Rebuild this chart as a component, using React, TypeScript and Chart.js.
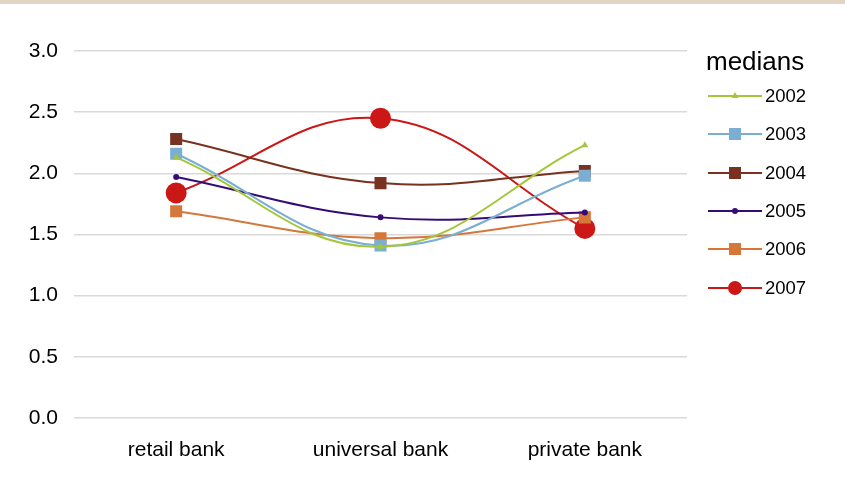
import React, { useEffect, useRef } from "react";
import { Chart, registerables } from "chart.js";

Chart.register(...registerables);

const categories = ["retail bank", "universal bank", "private bank"];
const yTicks = [0, 0.5, 1.0, 1.5, 2.0, 2.5, 3.0];
const legendTitle = "medians";

const s2002 = [2.13, 1.4, 2.23];
const s2003 = [2.16, 1.41, 1.98];
const s2004 = [2.28, 1.92, 2.02];
const s2005 = [1.97, 1.64, 1.68];
const s2006 = [1.69, 1.47, 1.64];
const s2007 = [1.84, 2.45, 1.55];

const seriesNames = ["2002", "2003", "2004", "2005", "2006", "2007"];
const seriesData = [s2002, s2003, s2004, s2005, s2006, s2007];
const colors = ["#a5c63b", "#7aaed3", "#78321f", "#360b75", "#d5763a", "#cc1717"];
const pointStyles = ["triangle", "rect", "rect", "circle", "rect", "circle"];
const pointRadii = [4, 8.5, 8.5, 3, 8.5, 10.5];
const legendRadii = [4, 8.5, 8.5, 3, 8.5, 7];

const FONT = "'Liberation Sans', Arial, sans-serif";

function drawPointLocal(ctx: any, style: string, r: number, x: number, y: number, color: string) {
  ctx.save();
  ctx.fillStyle = color;
  ctx.beginPath();
  if (style === "circle") {
    ctx.arc(x, y, r, 0, Math.PI * 2);
  } else if (style === "rect") {
    const s = r * Math.SQRT1_2;
    ctx.rect(x - s, y - s, 2 * s, 2 * s);
  } else if (style === "triangle") {
    ctx.moveTo(x, y - r);
    ctx.lineTo(x + r * 0.87, y + r * 0.5);
    ctx.lineTo(x - r * 0.87, y + r * 0.5);
    ctx.closePath();
  }
  ctx.fill();
  ctx.restore();
}

const legendPlugin = {
  id: "customLegend",
  beforeDraw(chart: any) {
    const ctx = chart.ctx;
    ctx.save();
    ctx.fillStyle = "#e2d5c3";
    ctx.fillRect(0, 0, chart.width, 4);
    ctx.restore();
  },
  afterDraw(chart: any) {
    const ctx = chart.ctx;
    ctx.save();
    ctx.fillStyle = "#000";
    ctx.font = `26px ${FONT}`;
    ctx.textBaseline = "middle";
    ctx.textAlign = "left";
    ctx.fillText(legendTitle, 706, 63);
    const x0 = 708;
    const x1 = 762;
    const ys = [96, 134, 173, 211, 249, 288];
    chart.data.datasets.forEach((ds: any, i: number) => {
      const y = ys[i];
      ctx.strokeStyle = ds.borderColor;
      ctx.lineWidth = 2;
      ctx.beginPath();
      ctx.moveTo(x0, y);
      ctx.lineTo(x1, y);
      ctx.stroke();
      drawPointLocal(ctx, ds.pointStyle, legendRadii[i], (x0 + x1) / 2, y, ds.borderColor);
      ctx.fillStyle = "#000";
      ctx.font = `18.5px ${FONT}`;
      ctx.textBaseline = "middle";
      ctx.fillText(ds.label, 765, y + 1);
    });
    ctx.restore();
  },
};

export default function App() {
  const ref = useRef<HTMLCanvasElement>(null);
  useEffect(() => {
    document.body.style.margin = "0";
    const chart = new Chart(ref.current as HTMLCanvasElement, {
      type: "line",
      data: {
        labels: categories,
        datasets: seriesNames.map((name, i) => ({
          label: name,
          data: seriesData[i],
          borderColor: colors[i],
          backgroundColor: colors[i],
          pointBackgroundColor: colors[i],
          pointBorderColor: colors[i],
          pointBorderWidth: 0,
          pointStyle: pointStyles[i] as any,
          pointRadius: pointRadii[i],
          borderWidth: 2,
          tension: 0.4,
          fill: false,
        })),
      },
      options: {
        animation: false,
        responsive: false,
        maintainAspectRatio: false,
        layout: { padding: { top: 51, right: 158, left: 0, bottom: 0 } },
        plugins: { legend: { display: false }, tooltip: { enabled: false } },
        scales: {
          x: {
            offset: true,
            grid: { display: false },
            border: { display: false },
            ticks: { color: "#000", font: { family: FONT, size: 21 }, padding: 12 },
            afterFit: (s: any) => {
              s.height = 81;
            },
          },
          y: {
            min: 0,
            max: 3,
            afterBuildTicks: (s: any) => {
              s.ticks = yTicks.map((v) => ({ value: v }));
            },
            grid: { color: "#d9d9d9", lineWidth: 1.5, drawTicks: false },
            border: { display: false },
            ticks: {
              color: "#000",
              font: { family: FONT, size: 21 },
              padding: 16,
              callback: (v: any) => Number(v).toFixed(1),
            },
            afterFit: (s: any) => {
              s.width = 74;
            },
          },
        },
      },
      plugins: [legendPlugin],
    });
    return () => chart.destroy();
  }, []);
  return <canvas ref={ref} width={845} height={499} style={{ display: "block" }} />;
}
